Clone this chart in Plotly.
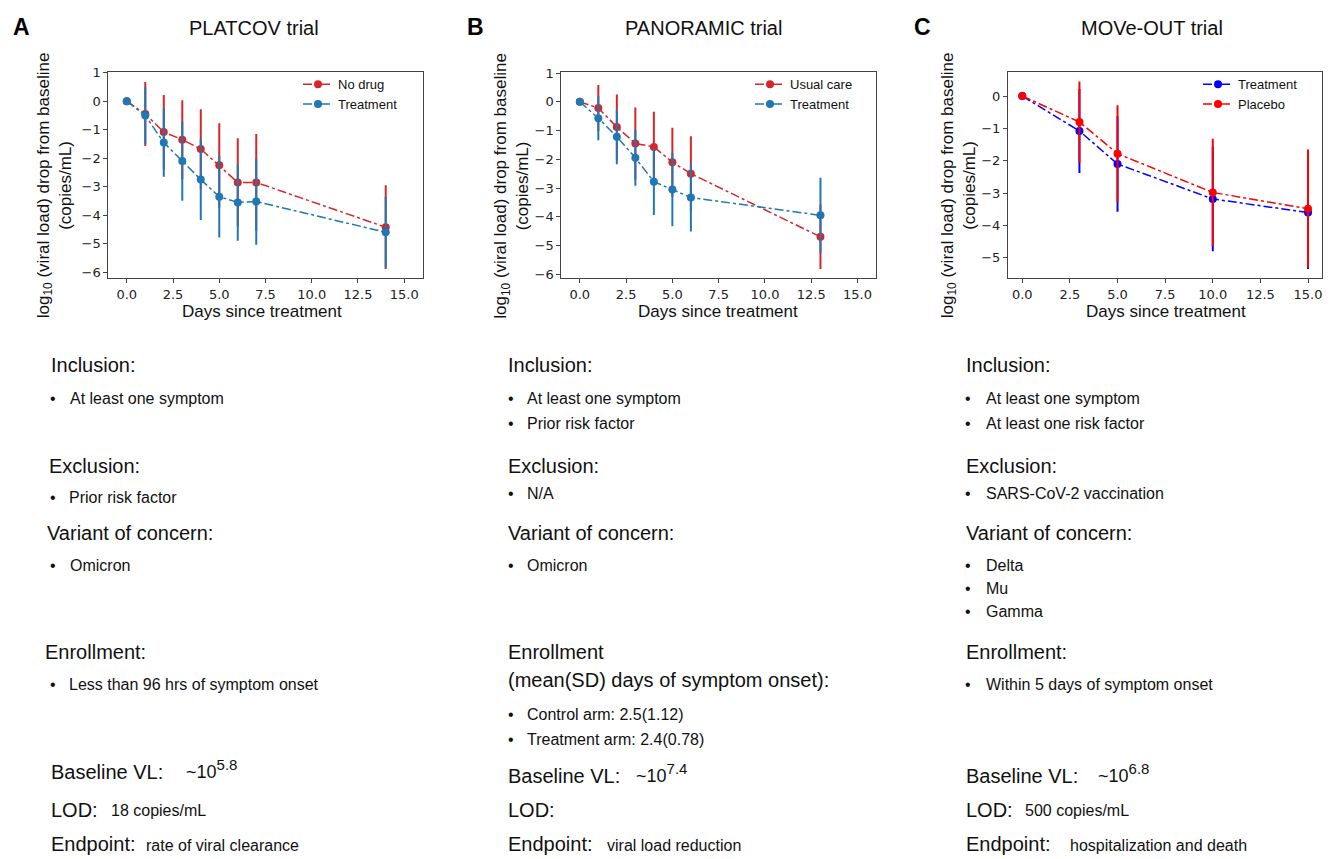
import plotly.graph_objects as go

# ---------------- data ----------------
platcov_days = [0, 1, 2, 3, 4, 5, 6, 7, 14]
platcov_nodrug = [0, -0.45, -1.08, -1.35, -1.68, -2.25, -2.85, -2.85, -4.42]
platcov_nodrug_err = [0, 1.12, 1.3, 1.38, 1.4, 1.48, 1.55, 1.7, 1.47]
platcov_treat = [0, -0.5, -1.45, -2.1, -2.75, -3.35, -3.55, -3.52, -4.6]
platcov_treat_err = [0, 0.99, 1.2, 1.39, 1.42, 1.43, 1.35, 1.52, 1.24]

panoramic_days = [0, 1, 2, 3, 4, 5, 6, 13]
panoramic_usual = [0, -0.22, -0.88, -1.45, -1.57, -2.1, -2.5, -4.7]
panoramic_usual_err = [0, 0.8, 1.13, 1.25, 1.22, 1.2, 1.3, 1.12]
panoramic_treat = [0, -0.57, -1.22, -1.95, -2.78, -3.05, -3.33, -3.95]
panoramic_treat_err = [0, 0.77, 0.95, 0.97, 1.16, 1.28, 1.18, 1.31]

moveout_days = [0, 3, 5, 10, 15]
moveout_treat = [0, -1.08, -2.1, -3.18, -3.6]
moveout_treat_err = [0, 1.3, 1.48, 1.62, 1.75]
moveout_placebo = [0, -0.8, -1.78, -2.98, -3.48]
moveout_placebo_err = [0, 1.25, 1.5, 1.66, 1.83]

panel_letters = ["A", "B", "C"]
panel_titles = ["PLATCOV trial", "PANORAMIC trial", "MOVe-OUT trial"]
x_ticks = [0, 2.5, 5, 7.5, 10, 12.5, 15]

W, H = 1335, 859
SANS = "Liberation Sans, Arial, Helvetica, sans-serif"
TICKF = "DejaVu Sans, sans-serif"


def px(x):
    return x / W


def py(y):
    return 1 - y / H


fig = go.Figure()


def add_series(days, vals, errs, color, name, ax, legend):
    fig.add_trace(go.Scatter(
        x=days, y=vals, name=name, mode="lines+markers",
        xaxis=ax[0], yaxis=ax[1], legend=legend,
        line=dict(color=color, width=1.5, dash="dashdot"),
        marker=dict(color=color, size=8),
        error_y=dict(type="data", array=errs, visible=True, color=color,
                     thickness=2, width=0),
    ))


add_series(platcov_days, platcov_nodrug, platcov_nodrug_err, "#d62728", "No drug", ("x", "y"), "legend")
add_series(platcov_days, platcov_treat, platcov_treat_err, "#1f77b4", "Treatment", ("x", "y"), "legend")
add_series(panoramic_days, panoramic_usual, panoramic_usual_err, "#d62728", "Usual care", ("x2", "y2"), "legend2")
add_series(panoramic_days, panoramic_treat, panoramic_treat_err, "#1f77b4", "Treatment", ("x2", "y2"), "legend2")
add_series(moveout_days, moveout_treat, moveout_treat_err, "#0000ff", "Treatment", ("x3", "y3"), "legend3")
add_series(moveout_days, moveout_placebo, moveout_placebo_err, "#ff0000", "Placebo", ("x3", "y3"), "legend3")

# plot areas in pixels (left, right, top, bottom)
areas = [(108.3, 422.7, 66, 275), (561.3, 876, 66, 274.5), (1008, 1322.3, 66, 274.7)]
xranges = [[-1, 16], [-1, 16], [-0.75, 15.75]]
yranges = [[-6.22, 1.02], [-6.13, 1.03], [-5.63, 0.74]]

axis_common = dict(showline=True, linecolor="#444", linewidth=1, mirror=True,
                   ticks="outside", ticklen=4, tickcolor="#444", showgrid=False,
                   zeroline=False, tickfont=dict(family=TICKF, size=13, color="#222"))

layout = dict(width=W, height=H, margin=dict(l=0, r=0, t=0, b=0),
              paper_bgcolor="white", plot_bgcolor="white", showlegend=True)

for i, (l, r, t, b) in enumerate(areas):
    s = "" if i == 0 else str(i + 1)
    layout["xaxis" + s] = dict(domain=[px(l), px(r)], range=xranges[i], anchor="y" + s,
                               tickvals=x_ticks, tickformat=".1f", **axis_common)
    layout["yaxis" + s] = dict(domain=[py(b), py(t)], range=yranges[i], anchor="x" + s,
                               dtick=1, **axis_common)

legend_x = [298, 750, 1198]
for i, lx in enumerate(legend_x):
    key = "legend" if i == 0 else "legend" + str(i + 1)
    layout[key] = dict(x=px(lx), y=py(63), xanchor="left", yanchor="top",
                       bgcolor="rgba(255,255,255,0)", itemwidth=30,
                       font=dict(family=SANS, size=13, color="#111"),
                       tracegroupgap=0)

fig.update_layout(**layout)

ann = []


def text(x, y, s, size, anchor="left", bold=False, angle=0):
    if anchor == "left":
        x -= 3
    ann.append(dict(x=px(x), y=py(y), xref="paper", yref="paper", text=s,
                    showarrow=False, xanchor=anchor, yanchor="middle", textangle=angle,
                    font=dict(family=SANS, size=size, color="#111" if not bold else "black")))


# panel letters and titles
letter_x = [21, 475, 922]
title_x = [254, 703, 1152]
xtitle_x = [262, 718, 1166]
ytitle_x = [54.5, 512, 958.5]
for i in range(3):
    text(letter_x[i], 20, "<b>" + panel_letters[i] + "</b>", 23, anchor="center", bold=True)
    text(title_x[i], 21, panel_titles[i], 20, anchor="center")
    text(xtitle_x[i], 308, "Days since treatment", 17, anchor="center")
    text(ytitle_x[i], 181, "log<sub>10</sub> (viral load) drop from baseline<br>(copies/mL)", 17,
         anchor="center", angle=-90)

# ---------------- text blocks ----------------
HEAD = 20
BUL = 16


def bullet(xb, xt, y, s):
    text(xb, y, "•", 16, anchor="center")
    text(xt, y, s, BUL)


def sup(base, exp):
    return base + "<sup><span style='font-size:15px'>" + exp + "</span></sup>"


# Column A
text(51.7, 363, "Inclusion:", HEAD)
bullet(53, 70.5, 397, "At least one symptom")
text(50, 465, "Exclusion:", HEAD)
bullet(53, 70, 497, "Prior risk factor")
text(47.7, 533, "Variant of concern:", HEAD)
bullet(53, 70.5, 566, "Omicron")
text(46, 653, "Enrollment:", HEAD)
bullet(53, 70, 686, "Less than 96 hrs of symptom onset")
text(51.7, 775, "Baseline VL:", HEAD)
text(186.7, 772, sup("~10", "5.8"), 18)
text(51.7, 813, "LOD:", HEAD)
text(112.3, 814, "18 copies/mL", BUL)
text(51.7, 848, "Endpoint:", HEAD)
text(147.3, 849, "rate of viral clearance", BUL)

# Column B
text(509.3, 363, "Inclusion:", HEAD)
bullet(510.7, 527.7, 397, "At least one symptom")
bullet(510.7, 527.7, 422, "Prior risk factor")
text(509.3, 465, "Exclusion:", HEAD)
bullet(510.7, 527.7, 493, "N/A")
text(509.3, 533, "Variant of concern:", HEAD)
bullet(510.7, 527.7, 566, "Omicron")
text(509, 653, "Enrollment", HEAD)
text(509, 682, "(mean(SD) days of symptom onset):", HEAD)
bullet(510.7, 527.7, 717, "Control arm: 2.5(1.12)")
bullet(510.7, 527.7, 742, "Treatment arm: 2.4(0.78)")
text(509, 779, "Baseline VL:", HEAD)
text(637.3, 776, sup("~10", "7.4"), 18)
text(509, 813, "LOD:", HEAD)
text(509, 848, "Endpoint:", HEAD)
text(608.3, 849, "viral load reduction", BUL)

# Column C
text(966.7, 363, "Inclusion:", HEAD)
bullet(968.3, 986.7, 397, "At least one symptom")
bullet(968.3, 986.7, 422, "At least one risk factor")
text(966.7, 465, "Exclusion:", HEAD)
bullet(968.3, 986.7, 493, "SARS-CoV-2 vaccination")
text(966.7, 533, "Variant of concern:", HEAD)
bullet(968.3, 986.7, 566, "Delta")
bullet(968.3, 986.7, 589, "Mu")
bullet(968.3, 986.7, 612, "Gamma")
text(966.7, 653, "Enrollment:", HEAD)
bullet(968.3, 986.7, 686, "Within 5 days of symptom onset")
text(966.7, 779, "Baseline VL:", HEAD)
text(1099, 776, sup("~10", "6.8"), 18)
text(966.7, 813, "LOD:", HEAD)
text(1025.7, 814, "500 copies/mL", BUL)
text(966.7, 848, "Endpoint:", HEAD)
text(1070.7, 849, "hospitalization and death", BUL)

fig.update_layout(annotations=ann)
fig.write_html("out.html")
